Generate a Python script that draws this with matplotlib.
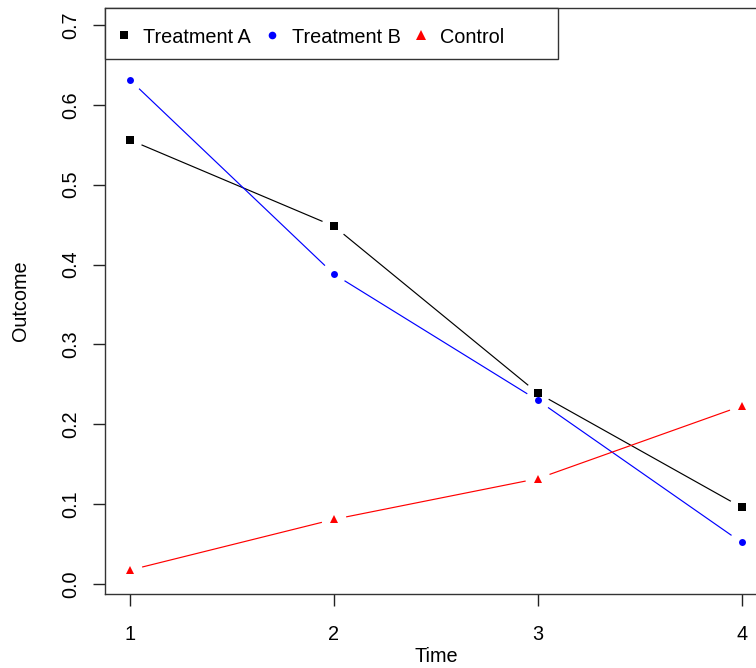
import numpy as np
import matplotlib.pyplot as plt
from matplotlib.lines import Line2D
from matplotlib.patches import Rectangle

plt.rcParams['font.family'] = ['Liberation Sans', 'DejaVu Sans']

# Outcome by time point for each group
time = [1, 2, 3, 4]
treatment_a = [0.556, 0.448, 0.239, 0.096]
treatment_b = [0.631, 0.388, 0.230, 0.052]
control = [0.0175, 0.081, 0.132, 0.223]
y_ticks = [0.0, 0.1, 0.2, 0.3, 0.4, 0.5, 0.6, 0.7]

series = [
    ("Treatment A", treatment_a, "black", "s", 5.6),
    ("Treatment B", treatment_b, "blue", "o", 5.0),
    ("Control", control, "red", "^", 6.2),
]

FS = 14.3
W, H = 756, 668
fig = plt.figure(figsize=(W / 100, H / 100), dpi=100)
ax = fig.add_axes([105 / W, 1 - 594 / H, (767 - 105) / W, (594 - 8) / H])
ax.set_xlim(0.877, 4.124)
ax.set_ylim(-0.0125, 0.7213)

gap = 13  # blank pixels around each point, like R's type="b"


def gapped_line(xs, ys, color):
    pts = ax.transData.transform(np.column_stack([xs, ys]))
    inv = ax.transData.inverted()
    for p, q in zip(pts[:-1], pts[1:]):
        d = q - p
        L = np.hypot(*d)
        if L <= 2 * gap:
            continue
        u = d / L
        seg = inv.transform(np.array([p + u * gap, q - u * gap]))
        ax.plot(seg[:, 0], seg[:, 1], color=color, lw=0.85)


for name, vals, col, mk, ms in series:
    gapped_line(time, vals, col)
    ax.plot(time, vals, linestyle="none", marker=mk, color=col, ms=ms,
            markeredgewidth=0)

ax.set_xticks(time)
ax.set_yticks(y_ticks)
ax.set_yticklabels([f"{v:.1f}" for v in y_ticks], rotation=90, va="center")
ax.tick_params(length=8.6, width=1, labelsize=FS, color="#222222")
ax.tick_params(axis="x", pad=14)
ax.tick_params(axis="y", pad=9)
for s in ax.spines.values():
    s.set_color("#333333")
    s.set_linewidth(1)

ax.set_xlabel("Time", fontsize=FS, labelpad=2)
ax.set_ylabel("Outcome", fontsize=FS, labelpad=23)


# legend box in the top-left corner, laid out in pixels
def px(x, y):
    return x / W, 1 - y / H


x0, y0 = px(105, 59.3)
x1, y1 = px(558, 8)
fig.add_artist(Rectangle((x0, y0), x1 - x0, y1 - y0, transform=fig.transFigure,
                         facecolor="white", edgecolor="#333333", lw=1, zorder=5))
for (name, vals, col, mk, ms), mx, tx in zip(series, [124, 272, 421], [142.7, 291.5, 440]):
    fig.add_artist(Line2D([mx / W], [1 - 35.3 / H], transform=fig.transFigure,
                          marker=mk, color=col, ms=ms * 1.1, markeredgewidth=0,
                          linestyle="none", zorder=6))
    fig.text(tx / W, 1 - 35.3 / H, name, fontsize=FS, va="center_baseline",
             ha="left", zorder=6)

fig.savefig("out.png", dpi=100)
